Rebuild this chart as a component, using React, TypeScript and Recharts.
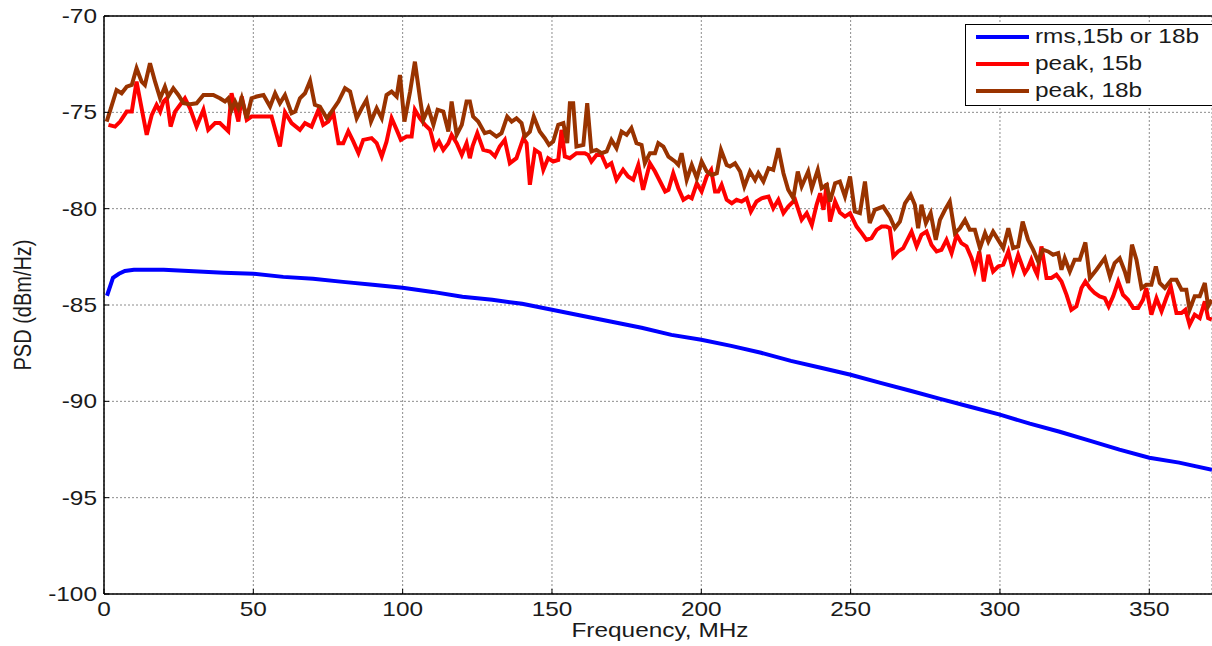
import { LineChart, Line, XAxis, YAxis, CartesianGrid, Legend, ReferenceLine, Label } from 'recharts';

const xTicks = [0, 50, 100, 150, 200, 250, 300, 350];
const yTicks = [-100, -95, -90, -85, -80, -75, -70];

// rms (15b or 18b) - smooth curve
const rmsFreq = [1, 3, 5, 7, 10, 20, 30, 40, 50, 60, 70, 80, 90, 100, 110, 120, 130, 140, 150, 160, 170, 180, 190, 200, 210, 220, 230, 240, 250, 260, 270, 280, 290, 300, 310, 320, 330, 340, 350, 360, 371];
const rmsPsd = [-84.52, -83.59, -83.38, -83.23, -83.17, -83.17, -83.25, -83.33, -83.38, -83.54, -83.64, -83.8, -83.95, -84.11, -84.32, -84.57, -84.73, -84.94, -85.25, -85.56, -85.87, -86.18, -86.55, -86.8, -87.12, -87.48, -87.9, -88.26, -88.62, -89.04, -89.45, -89.87, -90.28, -90.69, -91.16, -91.58, -92.04, -92.51, -92.93, -93.18, -93.55];

// peak, 15b
const peak15Freq = [1.5, 3.7, 5.4, 7.6, 9.3, 10.9, 12.6, 14.3, 16.0, 17.6, 18.8, 19.9, 21.0, 22.3, 23.8, 25.5, 27.1, 28.8, 31.0, 33.3, 34.9, 37.2, 38.8, 41.6, 42.7, 45.0, 46.1, 47.8, 49.4, 53.4, 56.1, 58.9, 60.6, 62.8, 65.6, 67.3, 69.5, 71.8, 73.4, 75.1, 76.8, 78.5, 80.1, 81.8, 83.5, 85.2, 86.8, 89.6, 91.3, 93.0, 94.6, 96.3, 98.0, 99.4, 101.3, 103.0, 104.1, 105.8, 107.5, 109.2, 110.8, 112.2, 113.6, 115.3, 116.4, 118.1, 119.8, 121.4, 122.5, 123.4, 125.0, 127.0, 129.2, 130.9, 132.5, 134.2, 135.9, 138.1, 140.4, 141.5, 142.6, 144.3, 145.9, 147.1, 148.7, 150.4, 152.1, 153.2, 154.3, 156.0, 158.2, 161.0, 162.1, 163.2, 164.9, 166.6, 168.3, 169.9, 171.6, 173.8, 175.5, 177.2, 178.9, 180.5, 182.8, 184.5, 186.2, 187.9, 189.0, 190.6, 192.3, 194.0, 195.7, 196.8, 198.5, 200.1, 201.8, 203.3, 204.6, 205.7, 206.8, 208.5, 210.2, 211.8, 213.5, 215.2, 216.6, 218.5, 220.2, 222.5, 224.1, 225.8, 227.5, 229.1, 231.4, 233.6, 235.3, 237.0, 238.6, 239.8, 240.9, 242.0, 243.1, 244.8, 246.4, 248.1, 249.8, 252.0, 253.7, 255.3, 257.0, 258.7, 260.4, 262.0, 263.1, 264.3, 265.9, 267.6, 269.3, 270.4, 272.1, 273.7, 275.4, 277.1, 278.8, 280.4, 282.1, 283.8, 285.5, 287.1, 288.8, 290.5, 291.6, 293.1, 294.6, 296.1, 297.7, 299.4, 301.1, 302.8, 304.4, 306.1, 308.3, 309.4, 310.5, 311.7, 312.5, 313.9, 315.6, 317.2, 318.9, 320.6, 322.3, 323.9, 325.6, 327.3, 328.6, 330.1, 331.7, 333.4, 335.1, 336.4, 337.9, 339.6, 341.2, 342.9, 344.6, 346.3, 347.9, 349.0, 350.7, 352.4, 354.1, 355.7, 357.2, 359.1, 360.8, 362.1, 363.5, 365.2, 366.9, 368.6, 369.7, 370.9];
const peak15Psd = [-75.65, -75.74, -75.48, -74.96, -74.96, -73.4, -74.79, -76.17, -75.13, -74.61, -74.96, -74.44, -74.27, -75.74, -74.96, -74.61, -74.27, -74.79, -75.74, -74.87, -75.91, -75.56, -75.56, -75.98, -74.01, -75.48, -74.18, -75.39, -75.22, -75.22, -75.22, -76.77, -75.0, -75.56, -75.91, -75.56, -75.74, -74.87, -75.65, -75.48, -75.05, -76.6, -76.6, -75.98, -76.52, -77.12, -76.43, -76.34, -76.6, -77.29, -76.52, -75.31, -75.91, -76.43, -76.26, -76.26, -74.87, -75.31, -75.65, -75.91, -76.86, -76.52, -76.95, -76.6, -76.17, -76.6, -77.21, -76.6, -77.38, -76.77, -76.08, -76.95, -77.03, -77.29, -76.77, -76.43, -77.64, -77.38, -76.34, -76.6, -78.76, -76.95, -77.12, -77.98, -77.38, -77.55, -77.47, -75.91, -77.29, -77.38, -77.12, -77.12, -77.21, -77.55, -77.21, -77.21, -77.81, -77.64, -78.5, -77.98, -78.33, -78.5, -77.73, -79.02, -77.64, -78.07, -78.59, -79.11, -79.02, -78.16, -78.94, -79.54, -79.37, -79.46, -78.68, -79.11, -78.33, -77.99, -79.11, -79.11, -78.76, -79.54, -79.72, -79.54, -79.63, -79.46, -80.15, -79.63, -79.46, -79.37, -79.98, -79.54, -80.23, -79.89, -79.54, -80.58, -80.23, -80.84, -79.8, -79.2, -80.06, -78.68, -80.67, -79.63, -80.2, -80.41, -80.23, -80.93, -81.27, -81.62, -81.53, -81.1, -80.93, -80.93, -81.01, -82.48, -82.22, -82.05, -81.53, -81.19, -81.96, -81.36, -81.19, -81.88, -82.22, -82.14, -81.62, -82.31, -81.36, -81.79, -81.96, -82.57, -83.17, -82.22, -83.78, -82.4, -83.26, -83.0, -82.91, -82.22, -83.26, -82.4, -83.34, -83.08, -82.65, -83.17, -83.43, -81.96, -83.6, -83.6, -83.43, -83.78, -84.47, -85.25, -85.07, -84.12, -83.78, -84.12, -84.38, -84.55, -84.64, -85.07, -84.55, -83.78, -84.47, -84.73, -85.16, -85.16, -84.73, -84.12, -85.5, -84.64, -85.33, -84.64, -84.04, -85.42, -85.42, -85.25, -86.02, -85.5, -85.68, -84.81, -85.68, -85.76];

// peak, 18b
const peak18Freq = [0.9, 4.2, 5.9, 7.6, 9.3, 10.9, 12.6, 13.7, 15.4, 17.1, 18.8, 20.4, 21.5, 23.2, 24.9, 26.6, 28.8, 31.0, 33.3, 36.6, 38.8, 40.5, 41.6, 42.7, 43.9, 45.0, 46.1, 47.8, 49.4, 51.1, 53.4, 55.6, 57.3, 58.9, 60.6, 62.8, 64.0, 65.6, 67.3, 69.0, 70.6, 72.3, 74.6, 76.2, 78.5, 80.7, 82.4, 84.6, 86.3, 87.9, 89.4, 91.3, 93.0, 94.6, 96.3, 98.0, 99.1, 100.6, 102.5, 104.1, 105.8, 106.9, 108.6, 110.3, 111.7, 113.6, 115.3, 116.4, 118.1, 119.8, 121.4, 122.5, 123.6, 125.3, 127.5, 129.2, 131.4, 133.1, 135.0, 136.5, 138.1, 139.8, 140.9, 142.6, 143.9, 145.9, 147.6, 149.0, 150.4, 152.1, 153.8, 155.1, 156.0, 157.1, 158.2, 160.5, 161.8, 163.2, 164.9, 166.6, 168.3, 169.9, 171.6, 173.3, 175.0, 176.6, 178.3, 180.0, 181.1, 182.8, 184.5, 185.6, 187.3, 189.0, 191.2, 192.3, 193.4, 195.1, 196.8, 198.5, 200.1, 201.8, 203.5, 205.2, 206.6, 208.5, 209.6, 211.3, 213.0, 214.4, 216.3, 218.0, 219.1, 220.8, 222.5, 224.1, 225.8, 227.5, 229.1, 230.8, 232.3, 233.6, 235.8, 237.0, 239.0, 240.3, 242.0, 243.1, 244.8, 246.4, 248.1, 249.8, 251.4, 253.1, 254.8, 256.4, 258.1, 260.9, 263.1, 264.8, 266.5, 268.2, 270.1, 271.5, 272.6, 273.7, 275.2, 276.8, 278.5, 279.9, 281.6, 283.2, 284.9, 286.6, 288.3, 289.9, 291.6, 293.3, 295.0, 296.1, 297.7, 299.4, 301.1, 302.8, 304.4, 306.1, 307.6, 309.4, 311.1, 312.8, 314.4, 316.1, 317.8, 319.5, 320.6, 321.7, 323.4, 325.0, 326.7, 328.6, 330.1, 332.3, 335.1, 336.8, 338.4, 340.1, 341.8, 342.9, 344.2, 345.7, 347.4, 349.0, 350.7, 352.2, 353.5, 355.2, 357.4, 359.1, 360.8, 362.4, 363.5, 365.2, 366.9, 368.6, 369.7, 370.9];
const peak18Psd = [-75.48, -73.84, -74.01, -73.67, -73.58, -72.71, -73.41, -73.58, -72.45, -73.41, -74.27, -73.67, -74.18, -73.75, -74.1, -74.53, -74.58, -74.53, -74.1, -74.1, -74.27, -74.44, -74.27, -74.88, -74.44, -74.79, -74.27, -75.31, -74.27, -74.18, -74.1, -74.7, -74.01, -74.53, -74.1, -75.05, -74.96, -74.27, -74.01, -73.37, -74.61, -74.7, -75.31, -74.96, -74.44, -73.75, -73.92, -75.31, -74.79, -74.35, -75.48, -74.79, -75.31, -74.1, -73.92, -74.18, -73.06, -75.48, -73.92, -72.37, -74.27, -75.39, -74.79, -75.65, -74.87, -74.96, -76.0, -74.44, -76.17, -75.65, -74.44, -74.44, -75.22, -75.48, -76.08, -76.0, -76.26, -76.08, -75.22, -75.48, -75.31, -75.56, -76.26, -76.0, -75.22, -76.0, -76.34, -76.69, -76.52, -75.65, -75.56, -76.6, -74.53, -74.53, -76.77, -76.69, -74.53, -77.03, -76.95, -77.12, -77.03, -76.43, -76.86, -76.0, -76.17, -75.82, -76.6, -76.69, -77.64, -77.12, -77.12, -76.6, -76.78, -77.3, -77.55, -77.73, -77.12, -78.51, -77.73, -78.42, -77.55, -78.07, -78.25, -78.16, -76.95, -77.73, -77.81, -77.64, -78.07, -78.85, -78.07, -78.51, -78.16, -78.59, -77.9, -77.99, -76.86, -78.16, -79.02, -79.46, -78.07, -78.85, -78.07, -78.94, -77.99, -78.94, -78.76, -79.63, -78.68, -78.59, -79.37, -78.33, -80.15, -80.23, -78.59, -80.75, -80.06, -79.89, -80.41, -81.01, -80.67, -79.72, -79.28, -79.8, -81.01, -79.8, -80.75, -80.23, -81.62, -80.58, -80.06, -79.63, -81.27, -81.01, -80.58, -81.1, -81.1, -82.05, -81.27, -81.7, -81.19, -81.62, -82.05, -81.01, -82.05, -81.96, -80.67, -81.61, -82.13, -82.74, -82.13, -82.22, -82.39, -82.31, -83.17, -82.57, -83.26, -82.65, -82.65, -81.75, -83.6, -83.17, -82.57, -83.52, -82.82, -82.57, -83.26, -83.86, -81.87, -82.65, -84.12, -83.95, -83.95, -83.0, -83.86, -84.12, -83.69, -83.69, -84.21, -84.21, -85.25, -84.55, -84.55, -83.86, -85.07, -84.73];

const toPoints = (freq: number[], psd: number[]) => freq.map((f, i) => ({ freq: f, psd: psd[i] }));

const series = [
  { name: 'rms,15b or 18b', color: '#0000ff', data: toPoints(rmsFreq, rmsPsd) },
  { name: 'peak, 15b', color: '#ff0000', data: toPoints(peak15Freq, peak15Psd) },
  { name: 'peak, 18b', color: '#993300', data: toPoints(peak18Freq, peak18Psd) },
];

const FONT = '"Liberation Sans", Arial, Helvetica, sans-serif';
const TEXT = '#1a1a1a';
const SX = 1.22; // the source figure is stretched horizontally

function XTick({ x, y, payload }: any) {
  return (
    <g>
      <line x1={x} y1={y} x2={x} y2={y - 5} stroke="#000" strokeWidth={1} />
      <text transform={`translate(${x},${y + 22}) scale(${SX},1)`} textAnchor="middle" fontSize={20} fontFamily={FONT} fill={TEXT}>
        {payload.value}
      </text>
    </g>
  );
}

function YTick({ x, y, payload }: any) {
  return (
    <g>
      <line x1={x} y1={y} x2={x + 5} y2={y} stroke="#000" strokeWidth={1} />
      <text transform={`translate(${x - 7},${y + 7}) scale(${SX},1)`} textAnchor="end" fontSize={20} fontFamily={FONT} fill={TEXT}>
        {payload.value}
      </text>
    </g>
  );
}

function LegendBox() {
  return (
    <svg width={262} height={82} style={{ display: 'block' }}>
      <rect x={0.5} y={0.5} width={270} height={81} fill="#fff" stroke="#000" strokeWidth={1} />
      {series.map((s, i) => (
        <g key={s.name}>
          <line x1={11} x2={64} y1={13 + i * 27} y2={13 + i * 27} stroke={s.color} strokeWidth={4} />
          <text transform={`translate(70,${19 + i * 27}) scale(${SX},1)`} fontSize={20} fontFamily={FONT} fill={TEXT}>
            {s.name}
          </text>
        </g>
      ))}
    </svg>
  );
}

export default function App() {
  return (
    <div style={{ position: 'absolute', left: 0, top: 0, width: 1212, height: 646, overflow: 'hidden', background: '#fff' }}>
      <LineChart width={1212} height={646} margin={{ top: 16, right: 0, bottom: 0, left: 0 }}>
        <CartesianGrid stroke="#8c8c8c" strokeDasharray="2 2" strokeWidth={1} />
        <XAxis
          type="number"
          dataKey="freq"
          domain={[0, 371]}
          ticks={xTicks}
          allowDataOverflow
          height={52}
          tickSize={0}
          tickMargin={0}
          tickLine={false}
          tick={<XTick />}
          axisLine={{ stroke: '#000', strokeWidth: 1.5 }}
        >
          <Label
            content={() => (
              <text transform={`translate(660,637) scale(${SX},1)`} textAnchor="middle" fontSize={20} fontFamily={FONT} fill={TEXT}>
                Frequency, MHz
              </text>
            )}
          />
        </XAxis>
        <YAxis
          type="number"
          domain={[-100, -70]}
          ticks={yTicks}
          allowDataOverflow
          width={104}
          tickSize={0}
          tickMargin={0}
          tickLine={false}
          tick={<YTick />}
          axisLine={{ stroke: '#000', strokeWidth: 1.5 }}
        >
          <Label
            content={() => (
              <text transform={`translate(31,305) scale(${SX},1) rotate(-90)`} textAnchor="middle" fontSize={20} fontFamily={FONT} fill={TEXT}>
                PSD (dBm/Hz)
              </text>
            )}
          />
        </YAxis>
        <ReferenceLine y={-70} stroke="#000" strokeWidth={1.5} ifOverflow="visible" />
        {series.map((s) => (
          <Line
            key={s.name}
            data={s.data}
            dataKey="psd"
            name={s.name}
            type="linear"
            stroke={s.color}
            strokeWidth={4}
            dot={false}
            activeDot={false}
            isAnimationActive={false}
          />
        ))}
        <Legend
          layout="vertical"
          align="center"
          verticalAlign="middle"
          content={() => <LegendBox />}
          wrapperStyle={{ left: 965, top: 24, width: 262, height: 82 }}
        />
      </LineChart>
    </div>
  );
}
